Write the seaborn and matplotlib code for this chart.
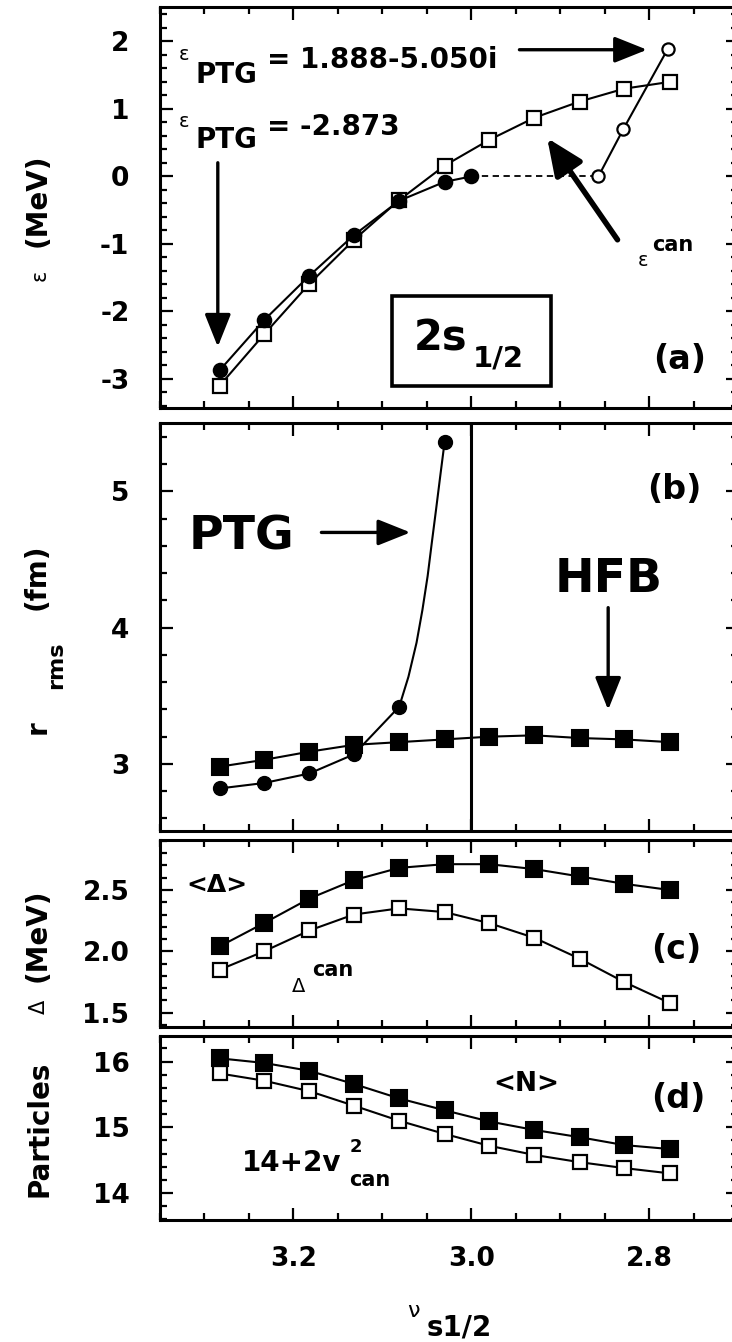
import matplotlib
matplotlib.use("Agg")
import matplotlib.pyplot as plt
import seaborn as sns
from matplotlib.ticker import MultipleLocator, FormatStrFormatter
from matplotlib.patches import Rectangle

# ---------------- data ----------------
nu = [3.283, 3.233, 3.182, 3.132, 3.081, 3.030, 2.980, 2.929, 2.878, 2.828, 2.777]
x_ticks = [3.2, 3.0, 2.8]

# (a) single-particle energies
eps_can = [-3.10, -2.34, -1.59, -0.94, -0.35, 0.16, 0.54, 0.87, 1.11, 1.30, 1.40]
ptg_nu_a = [3.283, 3.233, 3.182, 3.132, 3.081, 3.030, 3.000]
eps_ptg = [-2.873, -2.13, -1.47, -0.87, -0.36, -0.08, 0.0]
res_nu = [2.857, 2.829, 2.779]
eps_res = [0.0, 0.70, 1.888]

# (b) rms radii
rms_hfb = [2.98, 3.03, 3.09, 3.14, 3.16, 3.18, 3.20, 3.21, 3.19, 3.18, 3.16]
ptg_nu_b = [3.283, 3.233, 3.182, 3.132, 3.081, 3.030]
rms_ptg = [2.82, 2.86, 2.93, 3.07, 3.42, 5.36]
# PTG curve (points along the drawn line)
ptg_curve_nu = [3.283, 3.233, 3.182, 3.132, 3.081, 3.0706, 3.0615, 3.0549,
                3.0490, 3.0444, 3.0395, 3.0349, 3.030]
ptg_curve_r = [2.82, 2.86, 2.93, 3.07, 3.42, 3.64, 3.89, 4.13,
               4.38, 4.62, 4.87, 5.11, 5.36]

# (c) pairing gaps
gap_avg = [2.04, 2.23, 2.43, 2.58, 2.68, 2.71, 2.71, 2.67, 2.61, 2.55, 2.50]
gap_can = [1.85, 2.00, 2.17, 2.30, 2.35, 2.32, 2.23, 2.11, 1.94, 1.75, 1.58]

# (d) particle numbers
n_avg = [16.05, 15.98, 15.86, 15.66, 15.44, 15.26, 15.09, 14.96, 14.85, 14.73, 14.67]
n_can = [15.82, 15.71, 15.55, 15.33, 15.10, 14.90, 14.72, 14.58, 14.47, 14.38, 14.30]

# ---------------- style ----------------
sns.set_theme(style="ticks")
plt.rcParams['font.family'] = ['DejaVu Sans']
plt.rcParams['font.weight'] = 'bold'
plt.rcParams['axes.unicode_minus'] = False
plt.rcParams['text.color'] = 'black'
plt.rcParams['axes.labelcolor'] = 'black'
plt.rcParams['xtick.color'] = 'black'
plt.rcParams['ytick.color'] = 'black'
plt.rcParams['axes.edgecolor'] = 'black'

W, H = 732, 1342
fig = plt.figure(figsize=(W / 100, H / 100), dpi=100)
fig.patch.set_facecolor('white')


def ax_at(top, bottom, left=160, right=738):
    return fig.add_axes([left / W, 1 - bottom / H, (right - left) / W, (bottom - top) / H])


axa = ax_at(7, 408)
axb = ax_at(423.3, 830.7)
axc = ax_at(840, 1026.7)
axd = ax_at(1036, 1220)

LW = 1.5
filled_sq = dict(marker='s', markersize=11.5, markerfacecolor='black',
                 markeredgecolor='black', markeredgewidth=1.5)
open_sq = dict(marker='s', markersize=10.5, markerfacecolor='white',
               markeredgecolor='black', markeredgewidth=1.6)
filled_ci = dict(marker='o', markersize=10, markerfacecolor='black',
                 markeredgecolor='black', markeredgewidth=1.2)
open_ci = dict(marker='o', markersize=8.8, markerfacecolor='white',
               markeredgecolor='black', markeredgewidth=1.6)


def line(ax, x, y, **kw):
    sns.lineplot(x=x, y=y, ax=ax, color='black', linewidth=LW, sort=False,
                 estimator=None, errorbar=None, legend=False, **kw)


# (a)
line(axa, nu, eps_can, **open_sq, zorder=3)
line(axa, ptg_nu_a, eps_ptg, **filled_ci, zorder=4)
sns.lineplot(x=[ptg_nu_a[-1], res_nu[0]], y=[eps_ptg[-1], eps_res[0]], ax=axa,
             color='black', linewidth=1.3, linestyle=(0, (3.5, 2.5)), sort=False,
             estimator=None, errorbar=None, legend=False, zorder=2)
line(axa, res_nu, eps_res, **open_ci, zorder=4)

# (b)
axb.axvline(3.0, color='black', linewidth=2.2, zorder=1)
sns.lineplot(x=ptg_curve_nu, y=ptg_curve_r, ax=axb, color='black', linewidth=LW,
             sort=False, estimator=None, errorbar=None, legend=False, zorder=2)
sns.scatterplot(x=ptg_nu_b, y=rms_ptg, ax=axb, color='black', marker='o', s=100,
                edgecolor='black', linewidth=1.0, legend=False, zorder=3)
line(axb, nu, rms_hfb, **filled_sq, zorder=4)

# (c)
line(axc, nu, gap_avg, **filled_sq, zorder=3)
line(axc, nu, gap_can, **open_sq, zorder=3)

# (d)
line(axd, nu, n_can, **open_sq, zorder=3)
line(axd, nu, n_avg, **filled_sq, zorder=4)

# axes formatting
ylims = {axa: (-3.43, 2.51), axb: (2.51, 5.50), axc: (1.386, 2.907), axd: (13.59, 16.39)}
ymaj = {axa: 1, axb: 1, axc: 0.5, axd: 1}
ymin = {axa: 0.2, axb: 0.2, axc: 0.1, axd: 0.2}
for ax in (axa, axb, axc, axd):
    ax.set_xlim(3.35, 2.70)
    ax.set_ylim(*ylims[ax])
    ax.xaxis.set_major_locator(MultipleLocator(0.2))
    ax.xaxis.set_minor_locator(MultipleLocator(0.05))
    ax.yaxis.set_major_locator(MultipleLocator(ymaj[ax]))
    ax.yaxis.set_minor_locator(MultipleLocator(ymin[ax]))
    ax.tick_params(which='both', direction='in', top=True, right=True,
                   width=1.6, colors='black', labelsize=19)
    ax.tick_params(which='major', length=9)
    ax.tick_params(which='minor', length=5)
    ax.tick_params(axis='y', pad=22)
    ax.tick_params(axis='x', pad=19)
    ax.set_xlabel('')
    ax.set_ylabel('')
    for s in ax.spines.values():
        s.set_linewidth(2.2)
        s.set_color('black')
    ax.set_facecolor('white')
    if ax is not axd:
        ax.tick_params(labelbottom=False)
    for lab in ax.get_xticklabels() + ax.get_yticklabels():
        lab.set_fontweight('bold')
        lab.set_color('black')

axc.yaxis.set_major_formatter(FormatStrFormatter('%.1f'))

# ---------------- annotations ----------------
arrow = dict(arrowstyle='-|>,head_length=0.8,head_width=0.32', lw=2.4, color='black',
             shrinkA=0, shrinkB=0, mutation_scale=25)
T = dict(color='black')

# (a)
axa.text(3.3287, 1.80, 'ε', fontsize=14, fontweight='normal', ha='left', va='center', **T)
axa.text(3.3102, 1.507, 'PTG', fontsize=20, ha='left', va='center', **T)
axa.text(3.2292, 1.73, '= 1.888-5.050i', fontsize=20, ha='left', va='center', **T)
axa.annotate('', xy=(2.8023, 1.877), xytext=(2.9458, 1.877), arrowprops=arrow)

axa.text(3.3287, 0.815, 'ε', fontsize=14, fontweight='normal', ha='left', va='center', **T)
axa.text(3.3102, 0.544, 'PTG', fontsize=20, ha='left', va='center', **T)
axa.text(3.2292, 0.73, '= -2.873', fontsize=20, ha='left', va='center', **T)
axa.annotate('', xy=(3.285, -2.523), xytext=(3.285, 0.203), arrowprops=arrow)

axa.annotate('', xy=(2.9146, 0.569), xytext=(2.8355, -0.938),
             arrowprops=dict(arrowstyle='-|>,head_length=0.8,head_width=0.35', lw=4,
                             color='black', shrinkA=0, shrinkB=0, mutation_scale=28))
axa.text(2.8131, -1.25, 'ε', fontsize=14, fontweight='normal', ha='left', va='center', **T)
axa.text(2.7961, -1.02, 'can', fontsize=15, ha='left', va='center', **T)

axa.add_patch(Rectangle((2.9105, -3.111), 0.1789, 1.333, fill=False,
                        linewidth=2.6, edgecolor='black', zorder=5))
axa.text(3.0645, -2.40, '2s', fontsize=30, ha='left', va='center', **T)
axa.text(2.998, -2.70, '1/2', fontsize=21, ha='left', va='center', **T)
axa.text(2.796, -2.714, '(a)', fontsize=24, ha='left', va='center', **T)

# (b)
axb.text(3.318, 4.662, 'PTG', fontsize=34, ha='left', va='center', **T)
axb.annotate('', xy=(3.0684, 4.699), xytext=(3.1685, 4.699), arrowprops=arrow)
axb.text(2.9064, 4.353, 'HFB', fontsize=34, ha='left', va='center', **T)
axb.annotate('', xy=(2.846, 3.397), xytext=(2.846, 4.147), arrowprops=arrow)
axb.text(2.8018, 5.015, '(b)', fontsize=24, ha='left', va='center', **T)

# (c)
axc.text(3.3204, 2.541, '<Δ>', fontsize=18, ha='left', va='center', **T)
axc.text(3.2018, 1.712, 'Δ', fontsize=14, fontweight='normal', ha='left', va='center', **T)
axc.text(3.1789, 1.848, 'can', fontsize=15, ha='left', va='center', **T)
axc.text(2.798, 2.011, '(c)', fontsize=24, ha='left', va='center', **T)

# (d)
axd.text(2.975, 15.661, '<N>', fontsize=19, ha='left', va='center', **T)
axd.text(3.258, 14.456, '14+2v', fontsize=20, ha='left', va='center', **T)
axd.text(3.1372, 14.70, '2', fontsize=13, ha='left', va='center', **T)
axd.text(3.1372, 14.20, 'can', fontsize=15, ha='left', va='center', **T)
axd.text(2.798, 15.444, '(d)', fontsize=24, ha='left', va='center', **T)


# ---------------- axis titles ----------------
def ftext(px, py, s, **kw):
    fig.text(px / W, 1 - py / H, s, ha='center', va='center', color='black', **kw)


ftext(37.5, 200.7, '(MeV)', fontsize=20, rotation=90)
ftext(40, 275, 'ε', fontsize=15, fontweight='normal', rotation=90)
ftext(37, 576.6, '(fm)', fontsize=20, rotation=90)
ftext(56, 664.8, 'rms', fontsize=16, rotation=90)
ftext(38, 727, 'r', fontsize=20, rotation=90)
ftext(37.5, 935.4, '(MeV)', fontsize=20, rotation=90)
ftext(39, 1007, 'Δ', fontsize=15, fontweight='normal', rotation=90)
ftext(39, 1129, 'Particles', fontsize=20, rotation=90)

ftext(413, 1311, 'ν', fontsize=16, fontweight='normal')
ftext(459, 1328, 's1/2', fontsize=20)

fig.savefig('out.png', dpi=100, facecolor='white')
